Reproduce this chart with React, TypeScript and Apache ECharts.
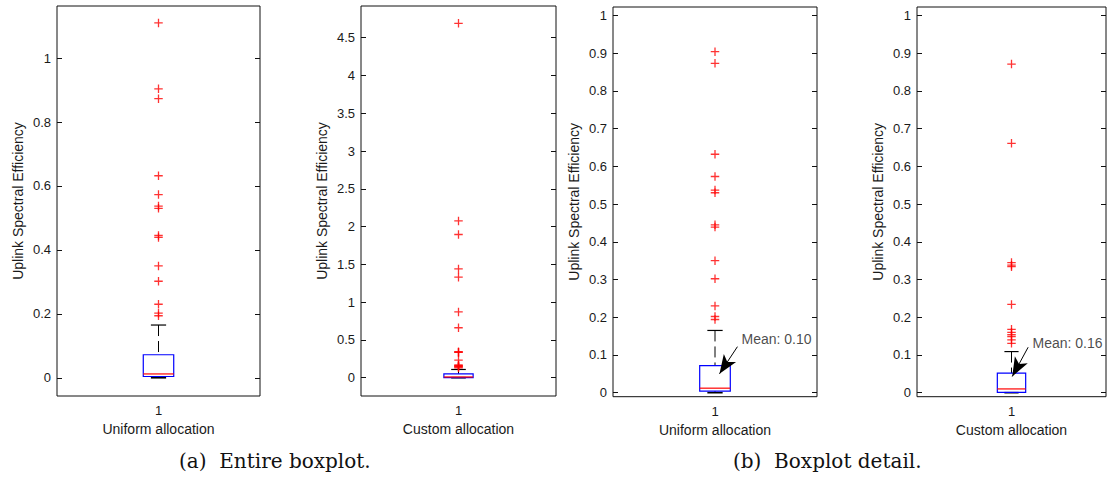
import React, { useEffect, useRef } from "react";
import * as echarts from "echarts";

// ---- data ----
const GROUP_X = [1];
const X_NAMES = ["Uniform allocation", "Custom allocation", "Uniform allocation", "Custom allocation"];
const Y_NAME = "Uplink Spectral Efficiency";

// box statistics: [lower whisker, q1, median, q3, upper whisker]
const UNIFORM_STATS = [0, 0.004, 0.012, 0.072, 0.165];
const CUSTOM_STATS = [0, 0.001, 0.01, 0.052, 0.109];

const UNIFORM_OUTLIERS = [1.11, 0.904, 0.873, 0.632, 0.573, 0.537, 0.53, 0.445, 0.439, 0.35, 0.302, 0.23, 0.202, 0.194];
const CUSTOM_OUTLIERS = [4.69, 2.075, 1.895, 1.44, 1.33, 0.871, 0.661, 0.345, 0.338, 0.334, 0.234, 0.168, 0.16, 0.154, 0.149, 0.14, 0.131];

const TICKS_ENTIRE_UNIFORM = [0, 0.2, 0.4, 0.6, 0.8, 1];
const TICKS_ENTIRE_CUSTOM = [0, 0.5, 1, 1.5, 2, 2.5, 3, 3.5, 4, 4.5];
const TICKS_DETAIL = [0, 0.1, 0.2, 0.3, 0.4, 0.5, 0.6, 0.7, 0.8, 0.9, 1];

const Y_RANGES = [
  [-0.057, 1.163],
  [-0.242, 4.919],
  [-0.0106, 1.0223],
  [-0.0106, 1.0223],
];

const MEAN_LABELS = ["Mean: 0.10", "Mean: 0.16"];
// annotation anchors in data coordinates (detail panels)
const MEAN_TEXT_POS = [[1.13, 0.1417], [1.111, 0.131]];
const MEAN_ARROW_FROM = [[1.11, 0.122], [1.088, 0.1205]];
const MEAN_ARROW_TO = [[1.022, 0.05], [1.004, 0.043]];

const CAPTIONS = ["(a)  Entire boxplot.", "(b)  Boxplot detail."];

// ---- layout/style ----
const W = 1109;
const H = 481;
const GRIDS = [
  { left: 57, right: W - 260, top: 6, bottom: H - 396 },
  { left: 361, right: W - 556, top: 6, bottom: H - 396 },
  { left: 613, right: W - 817, top: 7, bottom: H - 396.7 },
  { left: 917, right: W - 1111, top: 7, bottom: H - 396.7 },
];
const BOX_W = 0.15;
const FONT = "'Liberation Sans', Arial, Helvetica, sans-serif";
const TXT = "#1a1a1a";

const PLUS = "path://M5 0 L5 10 M0 5 L10 5";

function boxRender(params: any, api: any) {
  const x = api.value(0);
  const lo = api.value(1);
  const q1 = api.value(2);
  const med = api.value(3);
  const q3 = api.value(4);
  const hi = api.value(5);
  const w = api.size([BOX_W, 0])[0];
  const pLo = api.coord([x, lo]);
  const pQ1 = api.coord([x, q1]);
  const pMed = api.coord([x, med]);
  const pQ3 = api.coord([x, q3]);
  const pHi = api.coord([x, hi]);
  const cx = pMed[0];
  return {
    type: "group",
    children: [
      {
        type: "line",
        shape: { x1: cx, y1: pHi[1], x2: cx, y2: pQ3[1] },
        style: { stroke: "#000", lineWidth: 1, lineDash: [11, 5] },
      },
      {
        type: "line",
        shape: { x1: cx - w / 4, y1: pHi[1], x2: cx + w / 4, y2: pHi[1] },
        style: { stroke: "#000", lineWidth: 1.2 },
      },
      {
        type: "line",
        shape: { x1: cx, y1: pQ1[1], x2: cx, y2: pLo[1] },
        style: { stroke: "#000", lineWidth: 1, lineDash: [11, 5] },
      },
      {
        type: "line",
        shape: { x1: cx - w / 4, y1: pLo[1], x2: cx + w / 4, y2: pLo[1] },
        style: { stroke: "#000", lineWidth: 1.6 },
      },
      {
        type: "rect",
        shape: { x: cx - w / 2, y: pQ3[1], width: w, height: pQ1[1] - pQ3[1] },
        style: { stroke: "#0000ff", lineWidth: 1.2, fill: "none" },
      },
      {
        type: "line",
        shape: { x1: cx - w / 2, y1: pMed[1], x2: cx + w / 2, y2: pMed[1] },
        style: { stroke: "#ff0000", lineWidth: 1.2 },
      },
    ],
  };
}

export default function App() {
  const ref = useRef<HTMLDivElement>(null);

  useEffect(() => {
    if (!ref.current) return;
    const chart = echarts.init(ref.current, null, { renderer: "svg" });

    const tickSets = [TICKS_ENTIRE_UNIFORM, TICKS_ENTIRE_CUSTOM, TICKS_DETAIL, TICKS_DETAIL];
    const statsSets = [UNIFORM_STATS, CUSTOM_STATS, UNIFORM_STATS, CUSTOM_STATS];
    const outlierSets = [UNIFORM_OUTLIERS, CUSTOM_OUTLIERS, UNIFORM_OUTLIERS, CUSTOM_OUTLIERS];

    const grid = GRIDS.map((g) => ({
      ...g,
      show: true,
      borderColor: "#111",
      borderWidth: 1,
      backgroundColor: "transparent",
      containLabel: false,
    }));

    const xAxis = GRIDS.map((_, i) => ({
      gridIndex: i,
      type: "value",
      min: 0.5,
      max: 1.5,
      interval: 0.5,
      axisLine: { show: false },
      axisTick: { show: false },
      splitLine: { show: false },
      axisLabel: {
        formatter: (v: number) => (GROUP_X.includes(v) ? String(v) : ""),
        margin: 8,
        color: TXT,
        fontFamily: FONT,
        fontSize: 13,
      },
      name: X_NAMES[i],
      nameLocation: "middle",
      nameGap: 26,
      nameTextStyle: { color: TXT, fontFamily: FONT, fontSize: 14 },
    }));

    const yAxis: any[] = [];
    GRIDS.forEach((_, i) => {
      const [mn, mx] = Y_RANGES[i];
      yAxis.push({
        gridIndex: i,
        type: "value",
        position: "left",
        min: mn,
        max: mx,
        axisLine: { show: false },
        splitLine: { show: false },
        axisTick: {
          show: true,
          inside: true,
          length: 5,
          customValues: tickSets[i],
          lineStyle: { color: "#111", width: 1 },
        },
        axisLabel: {
          customValues: tickSets[i],
          margin: 6,
          color: TXT,
          fontFamily: FONT,
          fontSize: 13,
          formatter: (v: number) => String(v),
        },
        name: Y_NAME,
        nameLocation: "middle",
        nameGap: 32,
        nameRotate: 90,
        nameTextStyle: { color: TXT, fontFamily: FONT, fontSize: 14 },
      });
    });
    GRIDS.forEach((_, i) => {
      const [mn, mx] = Y_RANGES[i];
      yAxis.push({
        gridIndex: i,
        type: "value",
        position: "right",
        min: mn,
        max: mx,
        axisLine: { show: false },
        splitLine: { show: false },
        axisTick: {
          show: true,
          inside: true,
          length: 5,
          customValues: tickSets[i],
          lineStyle: { color: "#111", width: 1 },
        },
        axisLabel: { show: false },
      });
    });

    const series: any[] = [];
    GRIDS.forEach((_, i) => {
      const s = statsSets[i];
      series.push({
        type: "custom",
        xAxisIndex: i,
        yAxisIndex: i,
        renderItem: boxRender,
        encode: { x: 0, y: [1, 2, 3, 4, 5] },
        data: GROUP_X.map((x) => [x, ...s]),
        silent: true,
        z: 2,
      });
      series.push({
        type: "scatter",
        xAxisIndex: i,
        yAxisIndex: i,
        symbol: PLUS,
        symbolSize: 8.5,
        clip: true,
        itemStyle: { color: "transparent", borderColor: "#ff0000", borderWidth: 1.3 },
        data: outlierSets[i].map((v) => [GROUP_X[0], v]),
        silent: true,
        z: 3,
      });
    });

    // mean annotations on detail panels
    [2, 3].forEach((gi, k) => {
      series.push({
        type: "scatter",
        xAxisIndex: gi,
        yAxisIndex: gi,
        symbolSize: 0,
        silent: true,
        z: 5,
        data: [MEAN_TEXT_POS[k]],
        label: {
          show: true,
          position: "right",
          distance: 0,
          formatter: MEAN_LABELS[k],
          color: TXT,
          fontFamily: FONT,
          fontSize: 14,
        },
        markLine: {
          silent: true,
          animation: false,
          symbol: ["none", "arrow"],
          label: { show: false },
          lineStyle: { color: "#000", width: 1, type: "solid" },
          emphasis: { disabled: true },
          data: [
            [
              { coord: MEAN_ARROW_FROM[k], symbol: "none" },
              { coord: MEAN_ARROW_TO[k], symbol: "arrow", symbolSize: [11, 19] },
            ],
          ],
        },
      });
    });

    chart.setOption({
      animation: false,
      backgroundColor: "#ffffff",
      grid,
      xAxis,
      yAxis,
      series,
      graphic: [
        {
          type: "text",
          left: 179,
          top: 451,
          style: {
            text: CAPTIONS[0],
            fill: "#111",
            font: "20px 'DejaVu Serif', serif",
          },
        },
        {
          type: "text",
          left: 733,
          top: 451,
          style: {
            text: CAPTIONS[1],
            fill: "#111",
            font: "20px 'DejaVu Serif', serif",
          },
        },
      ],
    });

    return () => chart.dispose();
  }, []);

  return (
    <div
      ref={ref}
      style={{ position: "fixed", left: 0, top: 0, width: W, height: H, background: "#fff" }}
    />
  );
}
